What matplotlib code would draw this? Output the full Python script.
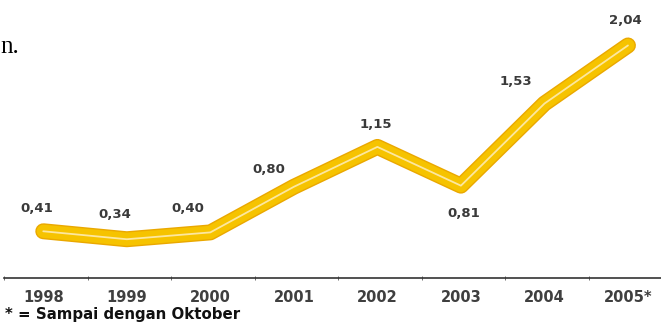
import matplotlib
matplotlib.use('Agg')
import matplotlib.pyplot as plt

# data
years = ['1998', '1999', '2000', '2001', '2002', '2003', '2004', '2005*']
values = [0.41, 0.34, 0.40, 0.80, 1.15, 0.81, 1.53, 2.04]
value_labels = ['0,41', '0,34', '0,40', '0,80', '1,15', '0,81', '1,53', '2,04']

# label offsets (pixels) from each point, as placed in the original
label_offsets = [(-7, 23), (-12, 25), (-23, 24), (-25, 17), (-2, 22), (3, -28), (-29, 22), (-3, 25)]

W, H = 661, 329
fig = plt.figure(figsize=(W / 100, H / 100), dpi=100)
fig.patch.set_facecolor('white')

# axes: bottom spine is the baseline at y=278px from top
left_px, base_px = 4, 329 - 278
ax = fig.add_axes([left_px / W, base_px / H, 1 - left_px / W, 1 - base_px / H])
px_x = 83.7   # px per category
px_y = 114.0  # px per unit
x0 = 42       # px of first point
ax.set_xlim((left_px - x0) / px_x, (W - x0) / px_x)
ax.set_ylim(0, (H - base_px) / px_y)

xs = list(range(len(values)))

# yellow ribbon with darker rim and pale centre highlight
ax.plot(xs, values, color='#EAA800', lw=11.5, solid_capstyle='round', solid_joinstyle='round', zorder=2)
ax.plot(xs, values, color='#F6C300', lw=9.5, solid_capstyle='round', solid_joinstyle='round', zorder=3)
ax.plot(xs, values, color='#FCE7A0', lw=1.3, solid_capstyle='round', solid_joinstyle='round', zorder=4)

for x, v, lab, (dx, dy) in zip(xs, values, value_labels, label_offsets):
    ax.annotate(lab, (x, v), xytext=(dx, dy), textcoords='offset pixels',
                ha='center', va='center', fontsize=9.5, fontweight='bold', color='#3a3a3a')

for s in ['top', 'right', 'left']:
    ax.spines[s].set_visible(False)
ax.spines['bottom'].set_color('#333333')
ax.spines['bottom'].set_linewidth(1.2)
ax.set_yticks([])
ax.set_xticks(xs)
ax.set_xticklabels(years, fontsize=10.5, fontweight='bold', color='#3f3f3f')
ax.tick_params(axis='x', length=0, pad=8.5)
ax.set_xticks([x - 0.47 for x in xs], minor=True)
ax.tick_params(axis='x', which='minor', length=3, direction='inout', color='#555555')
ax.patch.set_alpha(0)

fig.text(0, 1 - 47 / H, 'n.', family='Liberation Serif', fontsize=18, color='black', va='center', ha='left')
fig.text(5 / W, 1 - 314 / H, '* = Sampai dengan Oktober', fontsize=10.8, fontweight='bold',
         color='#111111', va='center', ha='left')

fig.savefig('out.png', dpi=100)
